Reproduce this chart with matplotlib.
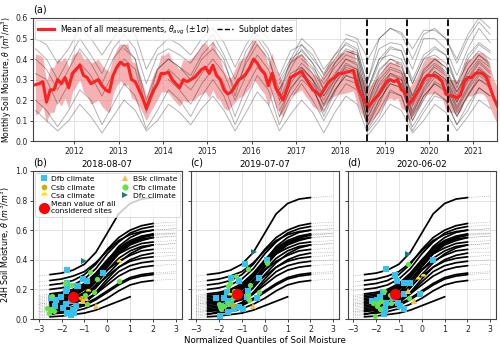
import numpy as np
import matplotlib
matplotlib.use("Agg")
import matplotlib.pyplot as plt
from matplotlib.lines import Line2D

plt.rcParams['font.family'] = ['DejaVu Sans']

# ---------------- Panel (a) data ----------------
start_year = 2011
start_month = 2  # February 2011
mean_theta = [
    .275, .28, .29, .19, .25, .25, .30, .28, .31, .26, .33,
    .35, .37, .32, .31, .28, .29, .30, .27, .25, .24, .32, .36,
    .385, .37, .375, .30, .29, .25, .21, .16, .21, .25, .28, .33,
    .33, .335, .30, .28, .26, .30, .29, .30, .31, .33, .35, .36,
    .33, .37, .32, .30, .25, .23, .24, .27, .30, .31, .33, .36,
    .40, .38, .35, .33, .27, .33, .26, .23, .20, .25, .31, .32,
    .33, .34, .31, .28, .25, .24, .22, .25, .28, .30, .31, .33,
    .33, .335, .34, .345, .27, .23, .20, .165, .19, .21, .23, .26,
    .29, .30, .29, .30, .25, .24, .18, .20, .23, .26, .30, .32,
    .32, .32, .31, .29, .23, .22, .22, .21, .225, .29, .31, .31,
    .33, .333, .33, .31, .26, .21, .17]
sigma_theta = [
    .15, .14, .12, .10, .11, .11, .10, .11, .10, .10, .09,
    .08, .07, .08, .09, .10, .10, .10, .10, .10, .10, .09, .09,
    .09, .10, .10, .09, .09, .08, .07, .06, .07, .08, .08, .09,
    .09, .10, .09, .09, .09, .10, .10, .10, .11, .11, .12, .12,
    .12, .12, .11, .10, .09, .08, .07, .08, .09, .09, .09, .10,
    .10, .10, .10, .10, .10, .10, .09, .09, .08, .08, .09, .09,
    .09, .09, .09, .08, .08, .08, .08, .08, .09, .09, .09, .10,
    .10, .10, .10, .10, .09, .09, .09, .09, .09, .09, .09, .09,
    .09, .09, .09, .09, .09, .09, .08, .08, .08, .09, .09, .09,
    .09, .09, .09, .08, .08, .08, .08, .08, .08, .09, .09, .09,
    .10, .10, .10, .10, .10, .09, .09]

# individual sites, quarterly values (Feb, May, Aug, Nov); (start quarter index, values)
site_lines = [
    (0, [.45, .40, .30, .40, .50, .42, .33, .45, .52, .45, .28, .42, .45, .42, .38, .46,
         .52, .42, .30, .44, .52, .45, .32, .44, .47, .40, .33, .42, .47, .44, .26, .40,
         .42, .40, .28, .40, .42, .38, .28, .38, .44, .40]),
    (0, [.40, .35, .25, .35, .45, .38, .28, .40, .47, .40, .20, .35, .40, .36, .30, .40,
         .45, .38, .25, .38, .47, .40, .25, .38, .42, .36, .28, .36, .42, .40, .20, .32,
         .38, .36, .22, .33, .38, .34, .24, .33, .40, .36]),
    (0, [.33, .30, .18, .28, .38, .32, .22, .33, .40, .35, .14, .28, .35, .30, .25, .33,
         .40, .33, .20, .32, .42, .35, .20, .33, .36, .30, .22, .30, .36, .34, .15, .27,
         .33, .31, .17, .28, .34, .30, .19, .29, .35, .31]),
    (0, [.20, .15, .07, .15, .25, .20, .08, .18, .28, .22, .06, .15, .25, .20, .12, .22,
         .30, .22, .08, .20, .32, .25, .08, .20, .28, .20, .10, .20, .28, .25, .06, .15,
         .25, .22, .07, .16, .24, .20, .08, .18, .26, .22]),
    (0, [.15, .10, .05, .10, .18, .12, .04, .12, .20, .15, .05, .10, .18, .14, .08, .16,
         .22, .15, .05, .14, .24, .18, .05, .13, .20, .14, .04, .14, .22, .18, .03, .10,
         .18, .15, .04, .10, .18, .14, .05, .12, .20, .16]),
    (0, [.50, .47, .38, .45, .55, .50, .42, .50, .57, .52, .35, .45, .50, .47, .42, .50,
         .55, .48, .36, .47, .55, .50]),
    (22, [.25, .35, .45, .38, .30, .38, .45, .43, .22, .35, .40, .38, .22, .35, .40, .36,
          .24, .35, .42, .38]),
    (22, [.18, .28, .36, .30, .20, .30, .38, .35, .14, .25, .33, .30, .15, .26, .34, .30,
          .17, .27, .36, .31]),
    (22, [.12, .22, .30, .25, .15, .25, .32, .30, .10, .20, .28, .26, .12, .22, .28, .25,
          .14, .22, .30, .27]),
    (22, [.30, .40, .50, .45, .35, .42, .50, .48, .30, .45, .48, .47, .35, .50, .50, .45,
          .32, .45, .55, .48]),
    (28, [.52, .50, .40, .50, .55, .52, .40, .52, .55, .50, .38, .50, .58, .52]),
    (24, [.40, .35, .25, .33, .40, .38, .18, .30, .36, .34, .19, .30, .37, .33, .21, .31,
          .39, .34]),
    (24, [.32, .27, .12, .24, .34, .32, .08, .18, .30, .28, .10, .20, .29, .26, .12, .22,
          .32, .28]),
    (28, [.30, .28, .05, .12, .24, .22, .05, .14, .22, .20, .08, .15, .26, .22]),
    (28, [.44, .42, .25, .38, .45, .44, .28, .40, .45, .42, .26, .40, .47, .43]),
    (22, [.15, .25, .33, .28, .18, .28, .35, .33, .12, .22, .30, .28, .14, .24, .31, .28,
          .15, .25, .33, .29]),
    (22, [.20, .30, .38, .33, .22, .32, .40, .37, .16, .28, .35, .33, .18, .30, .36, .32,
          .19, .30, .38, .33]),
    (22, [.28, .38, .47, .42, .32, .40, .48, .45, .26, .40, .46, .44, .30, .42, .46, .42,
          .28, .42, .48, .44]),
    (30, [.30, .50, .55, .53, .45, .54, .54, .50, .40, .52, .60, .55]),
    (24, [.35, .30, .17, .28, .37, .35, .12, .24, .32, .30, .13, .25, .33, .29, .16, .26,
          .35, .30]),
    (8, [.45, .40, .15, .35, .40, .36, .32, .42, .48, .40, .22, .40, .50, .42, .22, .40,
         .44, .38, .25, .38, .44, .42, .18, .34, .40, .37, .20, .34, .40, .36, .22, .35,
         .42, .37]),
    (12, [.30, .25, .18, .28, .35, .28, .12, .26, .36, .30, .12, .26, .32, .26, .14, .25,
          .32, .30, .08, .20, .28, .26, .10, .22, .28, .24, .12, .23, .30, .26]),
]

subplot_dates = ['2018-08-07', '2019-07-07', '2020-06-02']
subplot_dates_dec = [2018.597, 2019.512, 2020.418]
year_ticks = list(range(2012, 2022))

# ---------------- Panels (b)-(d) data ----------------
quantile_grid = [-3, -2.5, -2, -1.5, -1, -0.5, 0, 0.5, 1, 1.5, 2, 2.5, 3]
nan = np.nan
site_curves = [
    [0.01, 0.015, 0.02, 0.03, 0.04, 0.06, 0.09, 0.12, 0.15, nan, nan, nan, nan],
    [0.03, 0.035, 0.04, 0.05, 0.07, 0.10, 0.14, 0.19, 0.23, 0.25, 0.26, 0.265, 0.27],
    [0.05, 0.06, 0.07, 0.08, 0.10, 0.14, 0.19, 0.24, 0.28, 0.30, 0.31, 0.315, 0.32],
    [0.08, 0.09, 0.10, 0.11, 0.13, 0.17, 0.23, 0.29, 0.33, 0.35, 0.36, 0.365, 0.37],
    [0.04, 0.05, 0.06, 0.08, 0.11, 0.17, 0.25, 0.32, 0.36, 0.38, 0.39, 0.395, 0.40],
    [0.10, 0.11, 0.12, 0.14, 0.17, 0.22, 0.29, 0.35, 0.39, 0.41, 0.42, 0.425, 0.43],
    [0.02, 0.03, 0.05, 0.07, 0.11, 0.18, 0.27, 0.35, 0.40, 0.43, 0.445, 0.45, 0.45],
    [0.12, 0.13, 0.14, 0.16, 0.20, 0.26, 0.33, 0.39, 0.43, 0.46, 0.47, 0.475, 0.48],
    [0.06, 0.07, 0.08, 0.10, 0.14, 0.21, 0.30, 0.38, 0.44, 0.48, 0.50, 0.505, 0.51],
    [0.14, 0.15, 0.16, 0.18, 0.22, 0.29, 0.37, 0.44, 0.48, 0.51, 0.52, 0.525, 0.53],
    [0.09, 0.10, 0.11, 0.13, 0.17, 0.25, 0.35, 0.44, 0.50, 0.53, 0.55, 0.555, 0.56],
    [0.16, 0.17, 0.18, 0.20, 0.24, 0.31, 0.40, 0.48, 0.53, 0.56, 0.575, 0.58, 0.58],
    [0.11, 0.12, 0.13, 0.15, 0.20, 0.28, 0.39, 0.49, 0.55, 0.585, 0.60, 0.605, 0.61],
    [0.19, 0.20, 0.21, 0.23, 0.27, 0.34, 0.44, 0.52, 0.58, 0.61, 0.625, 0.63, 0.635],
    [0.22, 0.23, 0.24, 0.26, 0.30, 0.37, 0.47, 0.55, 0.60, 0.63, 0.645, 0.65, 0.655],
    [0.25, 0.26, 0.27, 0.29, 0.32, 0.38, 0.46, 0.53, 0.57, 0.59, 0.60, 0.605, 0.61],
    [0.29, 0.30, 0.31, 0.33, 0.37, 0.45, 0.58, 0.71, 0.78, 0.81, 0.82, 0.825, 0.83],
    [0.07, 0.08, 0.09, 0.11, 0.15, 0.23, 0.33, 0.41, 0.46, 0.49, 0.50, 0.505, 0.51],
    [0.13, 0.14, 0.15, 0.17, 0.21, 0.28, 0.38, 0.46, 0.51, 0.54, 0.55, 0.555, 0.56],
    [0.10, 0.11, 0.12, 0.14, 0.18, 0.26, 0.36, 0.45, 0.51, 0.55, 0.57, 0.575, 0.58],
    [0.05, 0.055, 0.06, 0.07, 0.09, 0.13, 0.18, 0.23, 0.27, 0.29, 0.30, 0.305, 0.31],
    [0.15, 0.16, 0.17, 0.19, 0.23, 0.30, 0.39, 0.47, 0.52, 0.55, 0.565, 0.57, 0.575],
]

climates = ['Dfb', 'Csb', 'Csa', 'BSk', 'Cfb', 'Dfc']

markers_b = {
    'Dfb': ([-1.74, -1.05, -0.87, -0.19, -1.33, -1.76, -1.78, -2.45, -2.24, -2.02, -1.81, -1.81,
             -1.59, -1.52, -1.38, -1.95, -1.74, -1.45, -1.30, -1.60, -2.30],
            [0.33, 0.27, 0.26, 0.31, 0.22, 0.24, 0.20, 0.14, 0.13, 0.15, 0.19, 0.10,
             0.12, 0.06, 0.085, 0.075, 0.04, 0.04, 0.22, 0.03, 0.09]),
    'Csb': ([-1.16], [0.14]),
    'Csa': ([0.53, -0.83], [0.386, 0.19]),
    'BSk': ([-0.94, -1.05, -0.48], [0.14, 0.12, 0.09]),
    'Cfb': ([-0.76, -0.44, 0.53, -1.85, -1.59, -0.60, -0.97, -2.43, -2.63, -2.46, -2.31, -0.88, -2.55],
            [0.32, 0.27, 0.26, 0.245, 0.23, 0.18, 0.165, 0.154, 0.075, 0.067, 0.052, 0.10, 0.04]),
    'Dfc': ([-1.02], [0.39]),
}
mean_b = ([-1.48], [0.15])

markers_c = {
    'Dfb': ([-0.88, 0.11, -1.47, -1.11, -0.27, -2.12, -1.79, -1.64, -1.62, -1.47, -1.33, -1.62,
             -1.96, -1.11, -0.97, -0.72, -0.78, -0.33, -1.90],
            [0.37, 0.40, 0.28, 0.26, 0.28, 0.14, 0.14, 0.18, 0.12, 0.10, 0.07, 0.045,
             0.02, 0.08, 0.07, 0.19, 0.15, 0.14, 0.09]),
    'Csb': ([-1.37], [0.095]),
    'Csa': ([-1.50], [0.16]),
    'BSk': ([-0.50], [0.09]),
    'Cfb': ([-0.72, 0.10, -1.24, -1.50, -1.62, -0.63, -0.26, -0.75, -0.68, -1.33, -1.62, -1.77,
             -2.00, -1.90, -1.40],
            [0.34, 0.375, 0.29, 0.245, 0.22, 0.23, 0.18, 0.16, 0.13, 0.19, 0.11, 0.09,
             0.10, 0.07, 0.14]),
    'Dfc': ([-0.45], [0.45]),
}
mean_c = ([-1.22], [0.17])

markers_d = {
    'Dfb': ([0.50, -1.58, -1.17, -1.10, -0.76, -0.51, -0.07, -0.79, -2.19, -1.82, -1.62, -1.65,
             -1.55, -1.04, -0.97, -0.78, -1.24, -1.95, -1.70],
            [0.40, 0.34, 0.30, 0.26, 0.245, 0.24, 0.17, 0.17, 0.125, 0.15, 0.07, 0.035,
             0.11, 0.11, 0.09, 0.07, 0.14, 0.13, 0.18]),
    'Csb': ([], []),
    'Csa': ([-0.18, 0.07], [0.27, 0.29]),
    'BSk': ([-0.62, -0.33], [0.19, 0.12]),
    'Cfb': ([-0.59, -1.65, -1.91, -1.80, -1.98, -1.84, -2.03, -0.56, -1.33, -2.12, -1.40],
            [0.37, 0.19, 0.11, 0.12, 0.09, 0.07, 0.02, 0.14, 0.11, 0.11, 0.16]),
    'Dfc': ([-0.59], [0.44]),
}
mean_d = ([-1.17], [0.17])

# ---------------- Styles ----------------
clim_style = {
    'Dfb': dict(marker='s', color='#33c3f0'),
    'Csb': dict(marker='h', color='#c8b400'),
    'Csa': dict(marker='o', color='#ffe600', fillstyle='top'),
    'BSk': dict(marker='^', color='#f5c242'),
    'Cfb': dict(marker='o', color='#62e34a'),
    'Dfc': dict(marker='>', color='#1b7b7b'),
}
FS = 5.6
grid_kw = dict(color='#e3e3e3', lw=0.7)


def style_axis(ax):
    ax.grid(True, **grid_kw)
    ax.set_axisbelow(True)
    for s in ax.spines.values():
        s.set_color('#444444')
        s.set_linewidth(0.8)
    ax.tick_params(labelsize=FS, length=2.5, width=0.6, colors='#222222', pad=1.5)


fig = plt.figure(figsize=(5, 3.46), dpi=100)

# ---------------- Panel (a) ----------------
axa = fig.add_axes([0.066, 0.592, 0.928, 0.356])
n = len(mean_theta)
t_month = np.array([start_year + (start_month - 1 + i + 0.5) / 12 for i in range(n)])
mean_arr = np.array(mean_theta)
sig_arr = np.array(sigma_theta)
axa.fill_between(t_month, mean_arr - sig_arr, mean_arr + sig_arr, color='#f08080',
                 alpha=0.6, lw=0, zorder=1)
for k0, vals in site_lines:
    tq = np.array([start_year + (1.5 + 3 * (k0 + j)) / 12 for j in range(len(vals))])
    axa.plot(tq, vals, color='black', alpha=0.3, lw=0.7, zorder=2)
axa.plot(t_month, mean_arr, color='#ff2020', lw=2.2, zorder=4)
for d in subplot_dates_dec:
    axa.axvline(d, color='black', ls='--', lw=1.3, zorder=5)
axa.set_xlim(2011.07, 2021.53)
axa.set_ylim(0, 0.6)
axa.set_xticks(year_ticks)
axa.set_yticks(np.arange(0, 0.61, 0.1))
axa.set_yticklabels([f'{v:.1f}' for v in np.arange(0, 0.61, 0.1)])
style_axis(axa)
axa.set_ylabel(r'Monthly Soil Moisture, $\theta$ ($m^3/m^3$)', fontsize=5.5, labelpad=1)
axa.text(0.0, 1.03, '(a)', transform=axa.transAxes, fontsize=7, va='bottom', ha='left')
leg_a = axa.legend([Line2D([], [], color='#ff2020', lw=2.2),
                    Line2D([], [], color='black', ls='--', lw=1.0)],
                   [r'Mean of all measurements, $\theta_{avg}$ ($\pm1\sigma$)', 'Subplot dates'],
                   loc='upper left', ncol=2, fontsize=FS, frameon=True, borderpad=0.4,
                   handlelength=2.0, columnspacing=1.0, borderaxespad=0.3)
leg_a.get_frame().set_edgecolor('#cccccc')
leg_a.get_frame().set_linewidth(0.6)

# ---------------- Panels (b)-(d) ----------------
lefts = [0.066, 0.381, 0.695]
panel_markers = [markers_b, markers_c, markers_d]
panel_means = [mean_b, mean_c, mean_d]
labels = ['(b)', '(c)', '(d)']
qg = np.array(quantile_grid, dtype=float)
axes = []
for i in range(3):
    ax = fig.add_axes([lefts[i], 0.078, 0.297, 0.428])
    axes.append(ax)
    for cv in site_curves:
        cv = np.array(cv, dtype=float)
        ax.plot(qg, cv, color='#888888', lw=0.45, ls=(0, (1, 2)), zorder=2)
        core = (qg >= -2.5) & (qg <= 2.0)
        ax.plot(qg[core], cv[core], color='black', lw=1.25, zorder=3)
    mk = panel_markers[i]
    for c in climates:
        xs, ys = mk[c]
        st = clim_style[c]
        ax.plot(xs, ys, ls='none', marker=st['marker'], color=st['color'],
                fillstyle=st.get('fillstyle', 'full'), markerfacecoloralt='none',
                mew=0, ms=3.8, zorder=5)
    ax.plot(panel_means[i][0], panel_means[i][1], ls='none', marker='o', color='red',
            ms=8, mew=0, zorder=6)
    ax.set_xlim(-3.25, 3.25)
    ax.set_ylim(0, 1.0)
    ax.set_xticks(range(-3, 4))
    ax.set_xticklabels([f'{v}'.replace('-', '\u2212') for v in range(-3, 4)])
    ax.set_yticks(np.arange(0, 1.01, 0.2))
    style_axis(ax)
    if i == 0:
        ax.set_yticklabels([f'{v:.1f}' for v in np.arange(0, 1.01, 0.2)])
        ax.set_ylabel(r'24H Soil Moisture, $\theta$ ($m^3/m^3$)', fontsize=5.8, labelpad=2)
    else:
        ax.set_yticklabels([])
    ax.set_title(subplot_dates[i], fontsize=6.3, pad=3)
    ax.text(0.0, 1.02, labels[i], transform=ax.transAxes, fontsize=7, va='bottom', ha='left')

axes[1].set_xlabel('Normalized Quantiles of Soil Moisture', fontsize=6.2, labelpad=1.5)

# legend in (b)
handles = []
names = []
for c in ['Dfb', 'Csb', 'Csa']:
    st = clim_style[c]
    handles.append(Line2D([], [], ls='none', marker=st['marker'], color=st['color'],
                          fillstyle=st.get('fillstyle', 'full'), markerfacecoloralt='none',
                          mew=0, ms=4.5))
    names.append(f'{c} climate')
handles.append(Line2D([], [], ls='none', marker='o', color='red', mew=0, ms=8))
names.append('Mean value of all\nconsidered sites')
for c in ['BSk', 'Cfb', 'Dfc']:
    st = clim_style[c]
    handles.append(Line2D([], [], ls='none', marker=st['marker'], color=st['color'],
                          mew=0, ms=4.5))
    names.append(f'{c} climate')
leg_b = axes[0].legend(handles, names, loc='upper left', ncol=2, fontsize=5.4,
                       frameon=True, borderpad=0.35, handletextpad=0.3, columnspacing=0.5,
                       handlelength=1.5, labelspacing=0.3, borderaxespad=0.3)
leg_b.get_frame().set_edgecolor('#cccccc')
leg_b.get_frame().set_linewidth(0.6)

fig.savefig('out.png', dpi=100)
